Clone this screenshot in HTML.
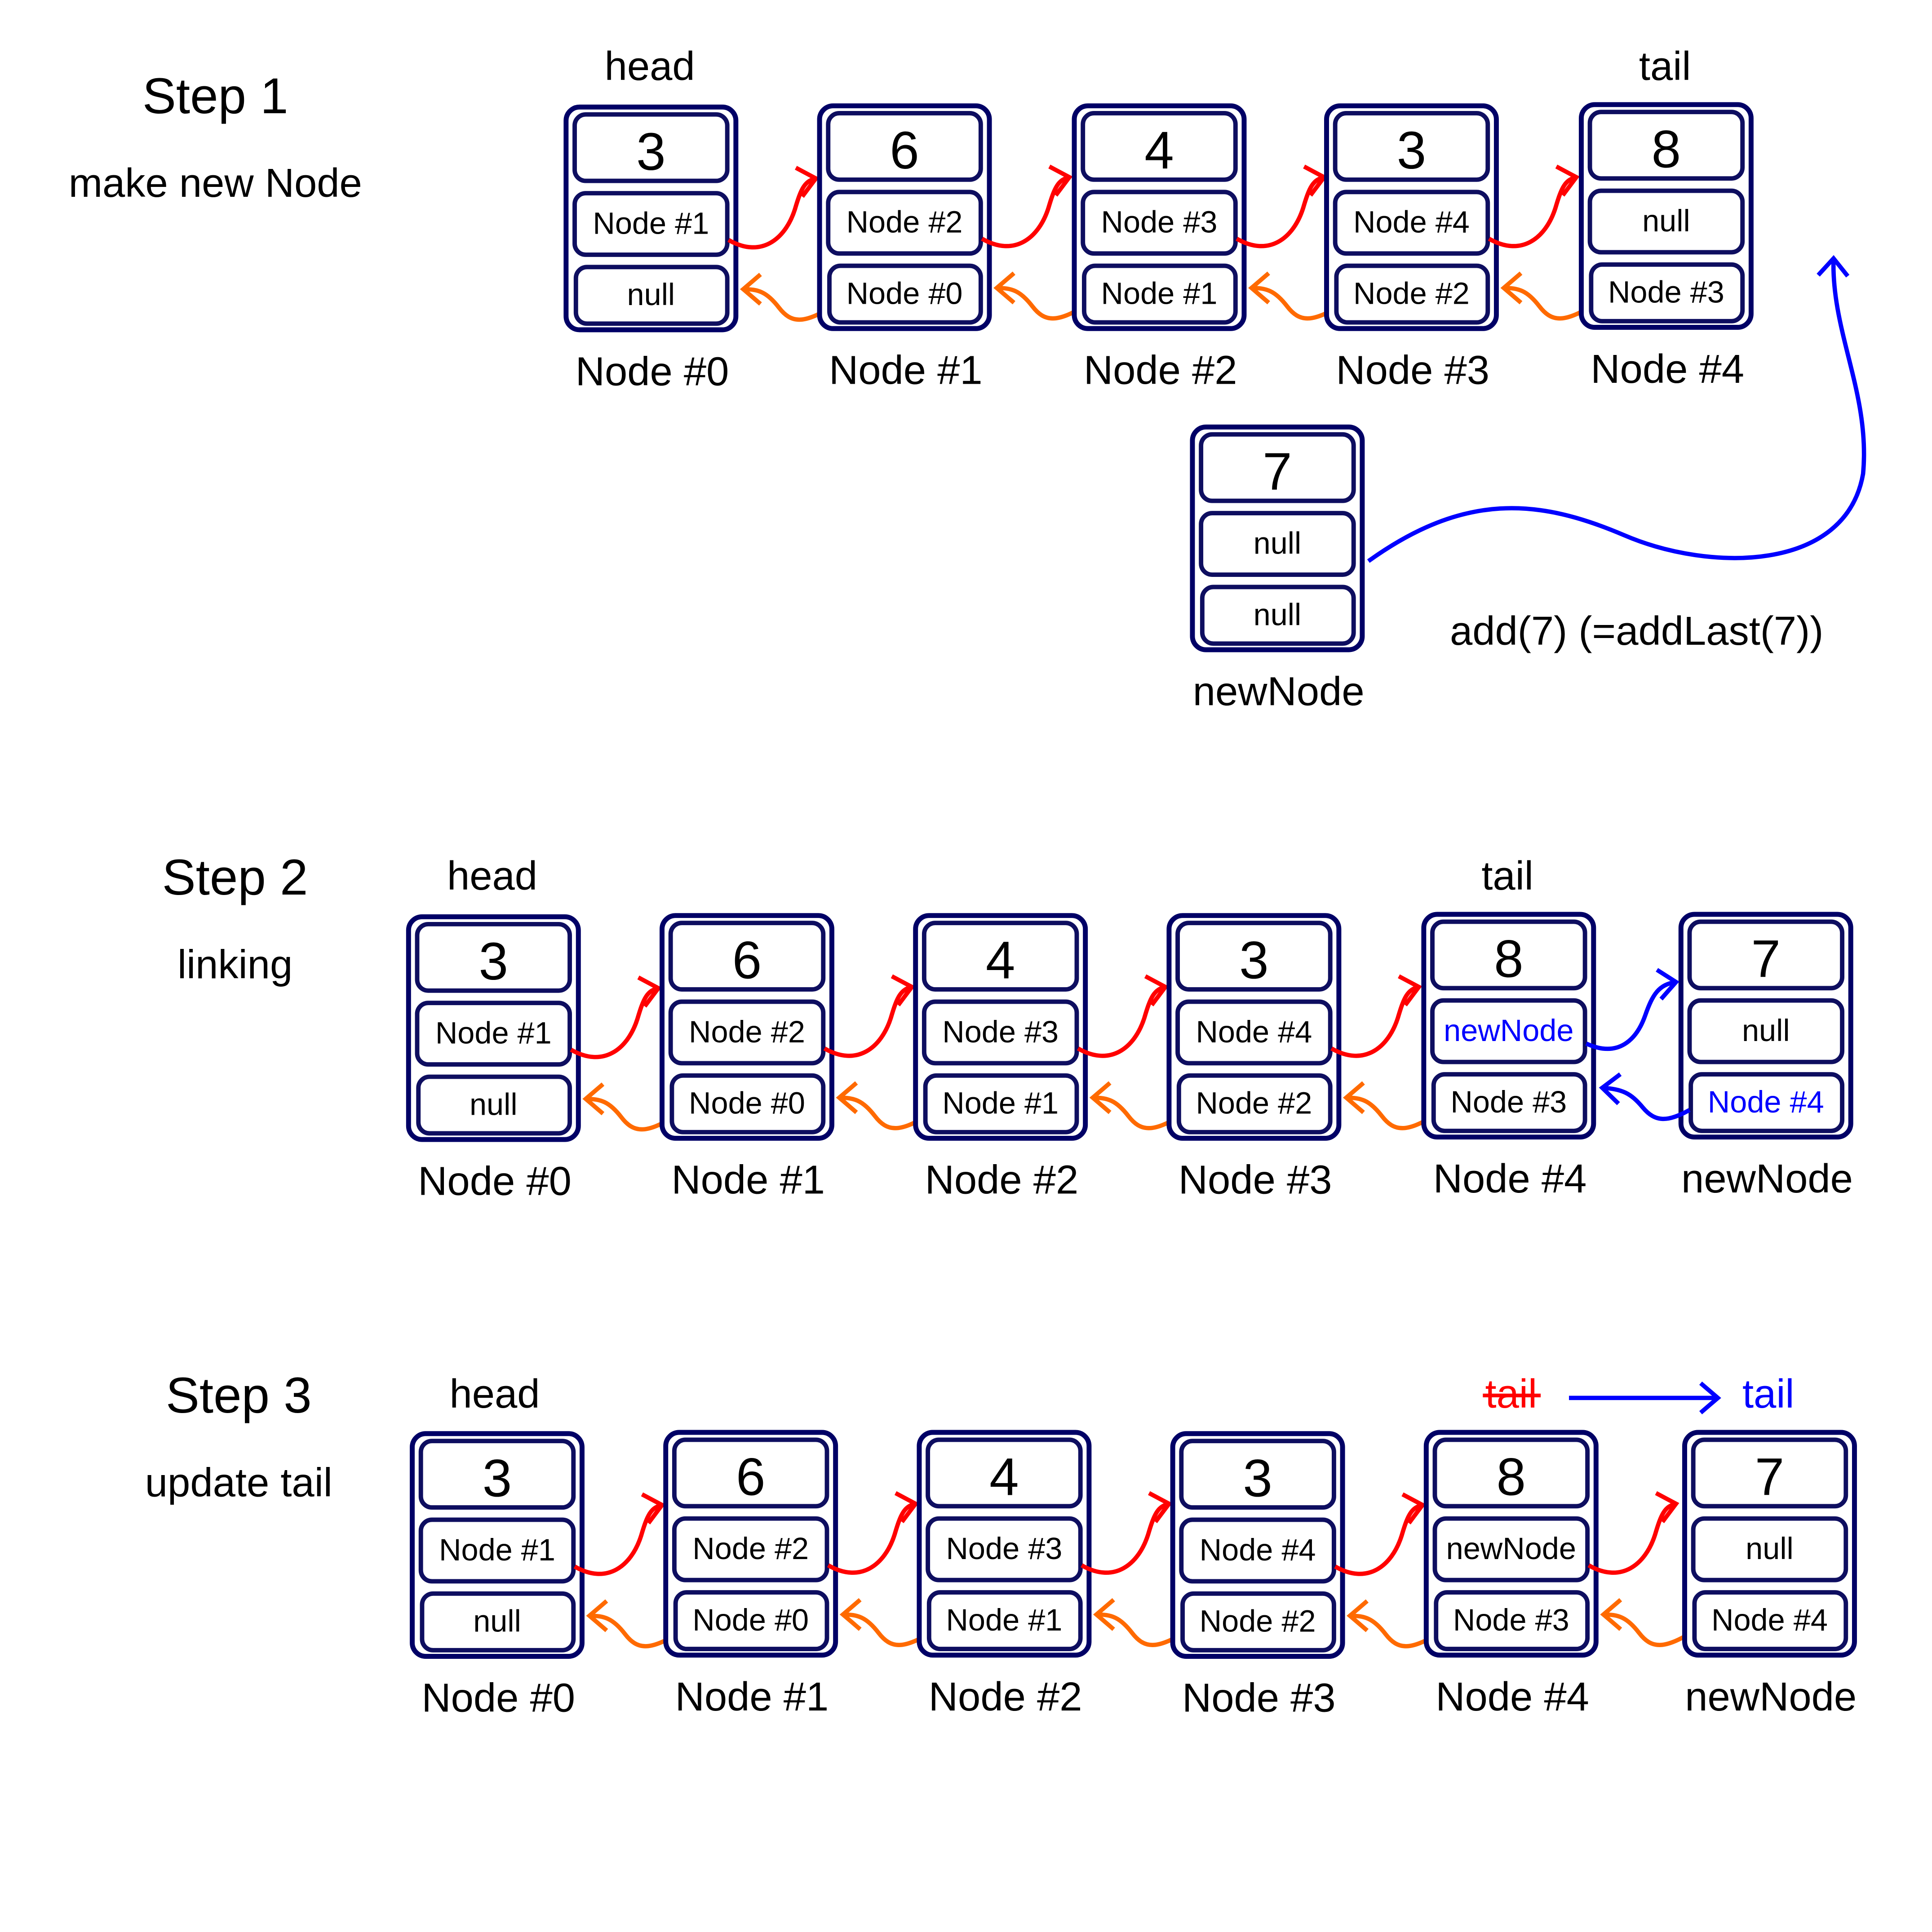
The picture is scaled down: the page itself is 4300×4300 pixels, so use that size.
<!DOCTYPE html>
<html><head><meta charset="utf-8"><style>html,body{margin:0;padding:0;background:#fff}svg{display:block}</style></head>
<body>
<svg xmlns="http://www.w3.org/2000/svg" width="4300" height="4300" viewBox="0 0 1570 1570" font-family="Liberation Sans, sans-serif">
<defs>
<symbol id="box" overflow="visible">
<rect x="2" y="2" width="138" height="181" rx="11" fill="#fff" stroke="#000066" stroke-width="4"/>
<rect x="9" y="8" width="124" height="54" rx="9" fill="none" stroke="#0e0e60" stroke-width="3.6"/>
<rect x="9" y="72" width="124" height="50" rx="9" fill="none" stroke="#0e0e60" stroke-width="3.6"/>
<rect x="10" y="132" width="123" height="46" rx="9" fill="none" stroke="#0e0e60" stroke-width="3.6"/>
</symbol>
<marker id="mr" markerUnits="userSpaceOnUse" markerWidth="30" markerHeight="30" refX="16" refY="12" orient="auto" overflow="visible"><path d="M2,0 L16,12 L2,24" fill="none" stroke="#ff0000" stroke-width="3.5"/></marker>
<marker id="mo" markerUnits="userSpaceOnUse" markerWidth="30" markerHeight="30" refX="16" refY="12" orient="auto" overflow="visible"><path d="M2,0 L16,12 L2,24" fill="none" stroke="#ff6a00" stroke-width="3.5"/></marker>
<marker id="mb" markerUnits="userSpaceOnUse" markerWidth="30" markerHeight="30" refX="16" refY="12" orient="auto" overflow="visible"><path d="M2,0 L16,12 L2,24" fill="none" stroke="#0000ff" stroke-width="3.5"/></marker>
<g id="arr">
<path d="M134,110 C160,125 180,110 188,85 C193,68 196,62 205,60" fill="none" stroke="#ff0000" stroke-width="3.5" marker-end="url(#mr)"/>
<path d="M217,165 C195,178 185,178 175,165 C165,152 158,150 146,150" fill="none" stroke="#ff6a00" stroke-width="3.5" marker-end="url(#mo)"/>
</g>
</defs>

<g font-size="41" text-anchor="middle" fill="#000">
<text x="175" y="92">Step 1</text>
<text x="191" y="727">Step 2</text>
<text x="194" y="1148">Step 3</text>
</g>
<g font-size="33" text-anchor="middle" fill="#000">
<text x="175" y="160">make new Node</text>
<text x="191" y="795">linking</text>
<text x="194" y="1216">update tail</text>
<text x="528" y="65">head</text>
<text x="1353" y="65">tail</text>
<text x="400" y="723">head</text>
<text x="1225" y="723">tail</text>
<text x="402" y="1144">head</text>
<text x="1330" y="524">add(7) (=addLast(7))</text>
</g>

<g transform="translate(458,85)"><use href="#box"/><use href="#arr"/><g text-anchor="middle"><text x="71" y="53" font-size="43">3</text><text x="71" y="105" font-size="25">Node #1</text><text x="71" y="163" font-size="25">null</text><text x="72" y="228" font-size="33">Node #0</text></g></g>
<g transform="translate(664,84)"><use href="#box"/><use href="#arr"/><g text-anchor="middle"><text x="71" y="53" font-size="43">6</text><text x="71" y="105" font-size="25">Node #2</text><text x="71" y="163" font-size="25">Node #0</text><text x="72" y="228" font-size="33">Node #1</text></g></g>
<g transform="translate(871,84)"><use href="#box"/><use href="#arr"/><g text-anchor="middle"><text x="71" y="53" font-size="43">4</text><text x="71" y="105" font-size="25">Node #3</text><text x="71" y="163" font-size="25">Node #1</text><text x="72" y="228" font-size="33">Node #2</text></g></g>
<g transform="translate(1076,84)"><use href="#box"/><use href="#arr"/><g text-anchor="middle"><text x="71" y="53" font-size="43">3</text><text x="71" y="105" font-size="25">Node #4</text><text x="71" y="163" font-size="25">Node #2</text><text x="72" y="228" font-size="33">Node #3</text></g></g>
<g transform="translate(1283,83)"><use href="#box"/><g text-anchor="middle"><text x="71" y="53" font-size="43">8</text><text x="71" y="105" font-size="25">null</text><text x="71" y="163" font-size="25">Node #3</text><text x="72" y="228" font-size="33">Node #4</text></g></g>
<g transform="translate(967,345)"><use href="#box"/><g text-anchor="middle"><text x="71" y="53" font-size="43">7</text><text x="71" y="105" font-size="25">null</text><text x="71" y="163" font-size="25">null</text><text x="72" y="228" font-size="33">newNode</text></g></g>
<path d="M1112,456 C1190,400 1250,405 1320,435 C1390,465 1500,465 1514,385 C1520,320 1488,270 1490,210" fill="none" stroke="#0000ff" stroke-width="3.5" marker-end="url(#mb)"/>

<g transform="translate(330,743)"><use href="#box"/><use href="#arr"/><g text-anchor="middle"><text x="71" y="53" font-size="43">3</text><text x="71" y="105" font-size="25">Node #1</text><text x="71" y="163" font-size="25">null</text><text x="72" y="228" font-size="33">Node #0</text></g></g>
<g transform="translate(536,742)"><use href="#box"/><use href="#arr"/><g text-anchor="middle"><text x="71" y="53" font-size="43">6</text><text x="71" y="105" font-size="25">Node #2</text><text x="71" y="163" font-size="25">Node #0</text><text x="72" y="228" font-size="33">Node #1</text></g></g>
<g transform="translate(742,742)"><use href="#box"/><use href="#arr"/><g text-anchor="middle"><text x="71" y="53" font-size="43">4</text><text x="71" y="105" font-size="25">Node #3</text><text x="71" y="163" font-size="25">Node #1</text><text x="72" y="228" font-size="33">Node #2</text></g></g>
<g transform="translate(948,742)"><use href="#box"/><use href="#arr"/><g text-anchor="middle"><text x="71" y="53" font-size="43">3</text><text x="71" y="105" font-size="25">Node #4</text><text x="71" y="163" font-size="25">Node #2</text><text x="72" y="228" font-size="33">Node #3</text></g></g>
<g transform="translate(1155,741)"><use href="#box"/><g text-anchor="middle"><text x="71" y="53" font-size="43">8</text><text x="71" y="105" font-size="25" fill="#0000ff">newNode</text><text x="71" y="163" font-size="25">Node #3</text><text x="72" y="228" font-size="33">Node #4</text></g></g>
<g transform="translate(1364,741)"><use href="#box"/><g text-anchor="middle"><text x="71" y="53" font-size="43">7</text><text x="71" y="105" font-size="25">null</text><text x="71" y="163" font-size="25" fill="#0000ff">Node #4</text><text x="72" y="228" font-size="33">newNode</text></g></g>
<path d="M1289,848 C1315,860 1330,845 1337,825 C1343,808 1348,800 1362,798" fill="none" stroke="#0000ff" stroke-width="3.5" marker-end="url(#mb)"/>
<path d="M1373,902 C1355,912 1345,912 1335,900 C1325,888 1318,885 1302,884" fill="none" stroke="#0000ff" stroke-width="3.5" marker-end="url(#mb)"/>

<g transform="translate(333,1163)"><use href="#box"/><use href="#arr"/><g text-anchor="middle"><text x="71" y="53" font-size="43">3</text><text x="71" y="105" font-size="25">Node #1</text><text x="71" y="163" font-size="25">null</text><text x="72" y="228" font-size="33">Node #0</text></g></g>
<g transform="translate(539,1162)"><use href="#box"/><use href="#arr"/><g text-anchor="middle"><text x="71" y="53" font-size="43">6</text><text x="71" y="105" font-size="25">Node #2</text><text x="71" y="163" font-size="25">Node #0</text><text x="72" y="228" font-size="33">Node #1</text></g></g>
<g transform="translate(745,1162)"><use href="#box"/><use href="#arr"/><g text-anchor="middle"><text x="71" y="53" font-size="43">4</text><text x="71" y="105" font-size="25">Node #3</text><text x="71" y="163" font-size="25">Node #1</text><text x="72" y="228" font-size="33">Node #2</text></g></g>
<g transform="translate(951,1163)"><use href="#box"/><use href="#arr"/><g text-anchor="middle"><text x="71" y="53" font-size="43">3</text><text x="71" y="105" font-size="25">Node #4</text><text x="71" y="163" font-size="25">Node #2</text><text x="72" y="228" font-size="33">Node #3</text></g></g>
<g transform="translate(1157,1162)"><use href="#box"/><use href="#arr"/><g text-anchor="middle"><text x="71" y="53" font-size="43">8</text><text x="71" y="105" font-size="25">newNode</text><text x="71" y="163" font-size="25">Node #3</text><text x="72" y="228" font-size="33">Node #4</text></g></g>
<g transform="translate(1367,1162)"><use href="#box"/><g text-anchor="middle"><text x="71" y="53" font-size="43">7</text><text x="71" y="105" font-size="25">null</text><text x="71" y="163" font-size="25">Node #4</text><text x="72" y="228" font-size="33">newNode</text></g></g>
<text x="1228" y="1144" font-size="33" text-anchor="middle" fill="#ff0000">tail</text>
<line x1="1205" y1="1134" x2="1252" y2="1134" stroke="#ff0000" stroke-width="3"/>
<path d="M1275,1136 L1396,1136" fill="none" stroke="#0000ff" stroke-width="3.5" marker-end="url(#mb)"/>
<text x="1437" y="1144" font-size="33" text-anchor="middle" fill="#0000ff">tail</text>
</svg>
</body></html>
